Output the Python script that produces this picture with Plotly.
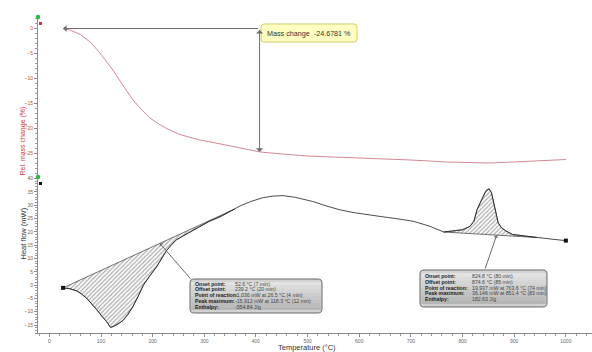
import plotly.graph_objects as go

# ---- data -------------------------------------------------------------
# TG: relative mass change (%) vs temperature (°C)
tg_temp = [26.5, 40, 60, 80, 98, 110, 123, 140, 162, 180, 195, 210, 227, 253, 291, 317,
           350, 380, 407, 450, 500, 550, 600, 640, 700, 770, 820, 853, 897, 950, 1000]
tg_mass = [0.0, -0.3, -1.2, -2.8, -4.9, -6.5, -8.3, -11.0, -14.3, -16.4, -17.9, -19.0,
           -20.0, -21.2, -22.3, -22.8, -23.5, -24.1, -24.6781, -25.1, -25.5, -25.7, -25.9,
           -26.0, -26.3, -26.7, -26.85, -26.9, -26.7, -26.5, -26.2]

# DSC: heat flow (mW) vs temperature (°C)
dsc_temp = [26.5, 40, 53, 62, 72, 82, 92, 102, 111, 118.3, 123, 133, 143, 152, 162, 172, 182,
            195, 208, 218, 227, 237, 246, 260, 275, 291, 310, 330, 349, 359, 370, 390, 413,
            432, 452, 475, 495, 510, 535, 562, 590, 614, 640, 670, 704, 735, 763.6, 780, 800,
            814, 822, 828, 834, 840, 846, 851.4, 856, 860, 863, 866, 869, 875, 885, 897, 920,
            944, 950, 975, 1000]
dsc_hf = [-1.036, -1.4, -2.2, -3.3, -4.9, -7.0, -9.3, -11.8, -13.8, -15.912, -15.6, -14.6,
          -13.2, -11.0, -8.0, -4.2, 0.0, 3.6, 7.0, 10.2, 13.0, 15.3, 17.0, 18.6, 20.2, 22.0,
          24.0, 25.6, 27.6, 28.6, 29.8, 31.4, 32.8, 33.4, 33.6, 33.0, 32.2, 31.4, 29.8, 28.3,
          27.2, 26.4, 25.8, 25.0, 24.0, 22.2, 19.937, 20.3, 20.8, 22.0, 24.0, 28.3, 31.0,
          33.3, 35.6, 36.146, 34.7, 31.5, 28.3, 25.8, 23.4, 21.6, 20.2, 19.0, 18.4, 17.85,
          17.7, 17.2, 16.7]

# integration limits (start / end of the straight baselines)
peak1_limits = [26.5, 359]
peak2_limits = [763.6, 944]

mass_change_temp = 407
mass_change_value = -24.6781

peak1_lines = [("Onset point:", "52.6 °C (7 min)"),
               ("Offset point:", "239.2 °C (20 min)"),
               ("Point of reaction:", "-1.036 mW at 26.5 °C (4 min)"),
               ("Peak maximum:", "-15.912 mW at 118.3 °C (12 min)"),
               ("Enthalpy:", "-554.84 J/g")]
peak2_lines = [("Onset point:", "824.8 °C (80 min)"),
               ("Offset point:", "874.6 °C (85 min)"),
               ("Point of reaction:", "19.937 mW at 763.6 °C (74 min)"),
               ("Peak maximum:", "36.146 mW at 851.4 °C (83 min)"),
               ("Enthalpy:", "182.63 J/g")]

# ---- geometry helpers (pixel -> paper) -------------------------------
W, H = 592, 352
ML, MR, MT, MB = 38, 0, 17, 19
PW, PH = W - ML - MR, H - MT - MB
SPLIT = 177  # pixel row where the two panels meet


def px(x):
    return (x - ML) / PW


def py(y):
    return (H - MB - y) / PH


def rounded_path(x0, y0, x1, y1, r):
    # rounded rectangle in pixel units, converted to paper units
    def P(x, y):
        return f"{px(x):.5f},{py(y):.5f}"
    return (f"M{P(x0 + r, y0)} L{P(x1 - r, y0)} Q{P(x1, y0)} {P(x1, y0 + r)} "
            f"L{P(x1, y1 - r)} Q{P(x1, y1)} {P(x1 - r, y1)} L{P(x0 + r, y1)} "
            f"Q{P(x0, y1)} {P(x0, y1 - r)} L{P(x0, y0 + r)} Q{P(x0, y0)} {P(x0 + r, y0)} Z")


def interp(t, xs, ys):
    for i in range(len(xs) - 1):
        if xs[i] <= t <= xs[i + 1]:
            f = (t - xs[i]) / (xs[i + 1] - xs[i])
            return ys[i] + f * (ys[i + 1] - ys[i])
    return ys[-1]


def peak_polygon(limits):
    a, b = limits
    ya, yb = interp(a, dsc_temp, dsc_hf), interp(b, dsc_temp, dsc_hf)
    xs = [t for t in dsc_temp if a <= t <= b]
    ys = [h for t, h in zip(dsc_temp, dsc_hf) if a <= t <= b]
    return xs + [a], ys + [ya], (a, ya, b, yb)


fig = go.Figure()

# hatched peak areas
for lim in (peak1_limits, peak2_limits):
    xs, ys, _ = peak_polygon(lim)
    fig.add_trace(go.Scatter(
        x=xs, y=ys, xaxis="x", yaxis="y2", mode="lines", fill="toself",
        fillcolor="white",
        fillpattern=dict(shape="/", fgcolor="#5a5a5a", bgcolor="white", size=3, solidity=0.4),
        line=dict(color="#3a3a3a", width=0.7), hoverinfo="skip"))

# DSC curve
fig.add_trace(go.Scatter(x=dsc_temp, y=dsc_hf, xaxis="x", yaxis="y2", mode="lines",
                         line=dict(color="#202020", width=0.8)))
fig.add_trace(go.Scatter(x=[dsc_temp[0], dsc_temp[-1]], y=[dsc_hf[0], dsc_hf[-1]],
                         xaxis="x", yaxis="y2", mode="markers", cliponaxis=False,
                         marker=dict(symbol="square", size=4, color="#111")))

# TG curve
fig.add_trace(go.Scatter(x=tg_temp, y=tg_mass, xaxis="x", yaxis="y", mode="lines",
                         line=dict(color="#c86a78", width=0.8)))

tick_font = dict(family="Liberation Sans", size=5, color="#666")

fig.update_layout(
    width=W, height=H, margin=dict(l=ML, r=MR, t=MT, b=MB),
    paper_bgcolor="white", plot_bgcolor="white", showlegend=False,
    xaxis=dict(domain=[0, 1], range=[-22, 1050.6], anchor="y2", dtick=100, tick0=0,
               showgrid=False, zeroline=False, showline=True, linecolor="#8a8a8a", linewidth=1,
               ticks="outside", ticklen=3, tickcolor="#8a8a8a", tickfont=tick_font,
               minor=dict(dtick=20, ticks="outside", ticklen=2, tickcolor="#9a9a9a")),
    yaxis=dict(domain=[py(SPLIT), 1], range=[-29.7, 2.3], anchor="x", dtick=5, tick0=0,
               showgrid=False, zeroline=False, showline=True, linecolor="#8a8a9a", linewidth=1,
               ticks="outside", ticklen=3, tickcolor="#8a8a9a",
               tickfont=dict(family="Liberation Sans", size=5, color="#c04a4a"),
               minor=dict(dtick=1, ticks="outside", ticklen=2, tickcolor="#9a9aaa")),
    yaxis2=dict(domain=[0, py(SPLIT)], range=[-18, 40.6], anchor="x", dtick=5, tick0=0,
                showgrid=False, zeroline=False, showline=True, linecolor="#8a8a8a", linewidth=1,
                ticks="outside", ticklen=3, tickcolor="#8a8a8a", tickfont=tick_font,
                minor=dict(dtick=1, ticks="outside", ticklen=2, tickcolor="#9a9a9a")),
)

shapes = []
annotations = []

# axis titles
annotations.append(dict(xref="paper", yref="paper", x=px(16), y=py(105), text="Rel. mass change (%)",
                        textangle=-90, showarrow=False,
                        font=dict(family="Liberation Sans", size=7, color="#c83c3c")))
annotations.append(dict(xref="paper", yref="paper", x=px(16), y=py(262), text="Heat flow (mW)",
                        textangle=-90, showarrow=False,
                        font=dict(family="Liberation Sans", size=7.5, color="#333")))
annotations.append(dict(xref="paper", yref="paper", x=px(307), y=py(347.5), yanchor="middle",
                        text="Temperature (°C)", showarrow=False,
                        font=dict(family="Liberation Sans", size=7.5, color="#333")))


# axis end markers
def dot(x, y, r, color):
    shapes.append(dict(type="circle", xref="paper", yref="paper", x0=px(x - r), x1=px(x + r),
                       y0=py(y + r), y1=py(y - r), fillcolor=color, line=dict(width=0)))


def sq(x, y, s, color):
    shapes.append(dict(type="rect", xref="paper", yref="paper", x0=px(x - s), x1=px(x + s),
                       y0=py(y + s), y1=py(y - s), fillcolor=color, line=dict(width=0)))


dot(38, 17, 2.3, "#2fb84a")
dot(38, 177, 2.3, "#2fb84a")
sq(40.5, 23.5, 1.5, "#d03030")
sq(40.5, 183.5, 1.5, "#111")

# mass change step arrows
arrow_col = "#6e6e6e"
annotations.append(dict(xref="x", yref="y", axref="x", ayref="y",
                        x=tg_temp[0], y=0, ax=mass_change_temp, ay=0, text="",
                        showarrow=True, arrowhead=1, arrowsize=1.2, arrowwidth=1, arrowcolor=arrow_col))
annotations.append(dict(xref="x", yref="y", axref="x", ayref="y",
                        x=mass_change_temp, y=mass_change_value, ax=mass_change_temp, ay=0, text="",
                        showarrow=True, arrowhead=1, arrowside="end+start", arrowsize=1.2,
                        arrowwidth=1, arrowcolor=arrow_col))
shapes.append(dict(type="path", xref="paper", yref="paper", path=rounded_path(261, 24, 357, 42, 3),
                   fillcolor="#ffffc2", line=dict(color="#cfcf6a", width=1)))
annotations.append(dict(xref="paper", yref="paper", x=px(265), y=py(33), xanchor="left",
                        yanchor="middle", showarrow=False,
                        text=f"Mass change  {mass_change_value:.4f} %",
                        font=dict(family="Liberation Sans", size=7.2, color="#333")))


# result boxes for the two peaks
def result_box(x0, y0, x1, y1, lines, label_x, value_x, row0, row_step, point, end_px):
    n = 8
    shapes.append(dict(type="path", xref="paper", yref="paper", path=rounded_path(x0, y0, x1, y1, 4),
                       fillcolor="#d2d2d2", line=dict(color="#6a6a6a", width=1)))
    for i in range(n):
        c = int(226 - i * (226 - 182) / (n - 1))
        ya = y0 + 3 + i * (y1 - y0 - 6) / n
        yb = y0 + 3 + (i + 1) * (y1 - y0 - 6) / n
        shapes.append(dict(type="rect", xref="paper", yref="paper", x0=px(x0 + 1.2), x1=px(x1 - 1.2),
                           y0=py(yb), y1=py(ya), fillcolor=f"rgb({c},{c},{c})", line=dict(width=0),
                           layer="above"))
    for i, (lab, val) in enumerate(lines):
        yy = row0 + i * row_step
        annotations.append(dict(xref="paper", yref="paper", x=px(label_x), y=py(yy), xanchor="left",
                                yanchor="middle", showarrow=False, text=f"<b>{lab}</b>",
                                font=dict(family="Liberation Sans", size=5.2, color="#222")))
        annotations.append(dict(xref="paper", yref="paper", x=px(value_x), y=py(yy), xanchor="left",
                                yanchor="middle", showarrow=False, text=val,
                                font=dict(family="Liberation Sans", size=5.2, color="#444")))
    # leader line from the baseline to the box
    tx, ty = point
    annotations.append(dict(xref="x", yref="y2", x=tx, y=ty, text="", showarrow=True,
                            axref="pixel", ayref="pixel", ax=end_px[0], ay=end_px[1],
                            arrowhead=1, arrowsize=0.8, arrowwidth=1, arrowcolor="#6a6a6a"))


_, _, (a1, ya1, b1, yb1) = peak_polygon(peak1_limits)
_, _, (a2, ya2, b2, yb2) = peak_polygon(peak2_limits)
t1 = 214
p1 = (t1, ya1 + (yb1 - ya1) * (t1 - a1) / (b1 - a1))
t2 = 866
p2 = (t2, ya2 + (yb2 - ya2) * (t2 - a2) / (b2 - a2))

result_box(190, 279, 322, 313, peak1_lines, 193, 233, 283.5, 5.8, p1, (32, 37))
result_box(420, 270, 547, 307, peak2_lines, 423, 470, 276, 5.8, p2, (-12, 35))

fig.update_layout(shapes=shapes, annotations=annotations)
fig.write_html("out.html")
